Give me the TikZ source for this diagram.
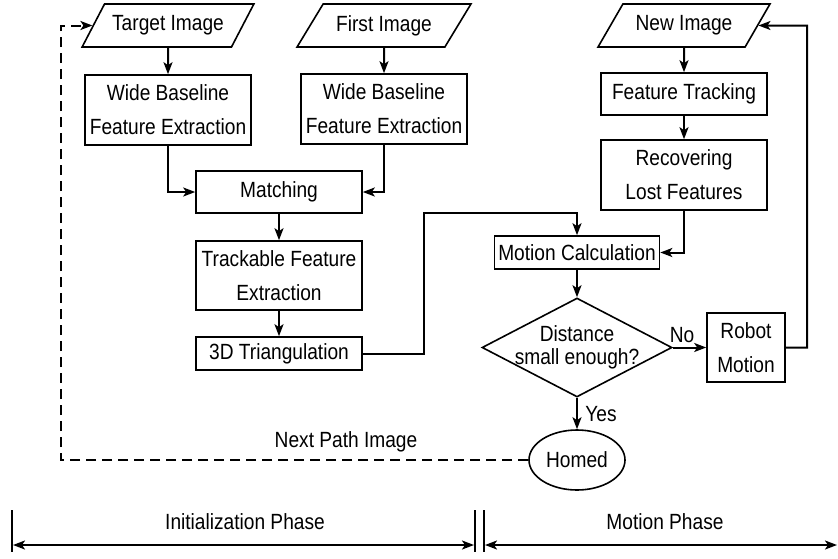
\documentclass[tikz,border=0pt]{standalone}
\usepackage{fontspec}
\setmainfont{Liberation Sans}[FakeStretch=0.87]
\usetikzlibrary{shapes.geometric,arrows.meta}

\tikzset{every picture/.style={line width=1.6pt}}
\tikzset{
  every node/.style={inner sep=0pt},
  box/.style={draw, rectangle, align=center, minimum width=166pt},
  io/.style={draw, trapezium, trapezium left angle=45, trapezium right angle=135,
    trapezium stretches=true, minimum height=43pt},
  flow/.style={line width=2pt, -{Stealth[length=12pt,width=9pt,inset=3pt]}},
  back/.style={flow, dash pattern=on 10pt off 6pt},
  span/.style={line width=2pt, {Stealth[length=12pt,width=9pt,inset=3pt]}-{Stealth[length=12pt,width=9pt,inset=3pt]}},
}

\begin{document}
\begin{tikzpicture}[x=1pt,y=1pt,yscale=-1,xscale=1,font=\fontsize{22}{34}\selectfont]
\useasboundingbox (0,0) rectangle (838,558);

%Shape: Parallelogram
\node [io, minimum width=172pt] (target) at (168,25.5) {Target Image};
\node [io, minimum width=174pt] (first) at (384,25.5) {First Image};
\node [io, minimum width=172pt] (newimg) at (684,25.5) {New Image};

%Shape: Rectangle
\node [box, minimum height=70pt] (wide1) at (168,110) {Wide Baseline\\Feature Extraction};
\node [box, minimum height=70pt] (wide2) at (384,109) {Wide Baseline\\Feature Extraction};
\node [box, minimum height=42pt] (match) at (279,192) {Matching};
\node [box, minimum height=69pt] (track) at (279,275.5) {Trackable Feature\\Extraction};
\node [box, minimum height=33pt] (tri) at (279,353.5) {3D Triangulation};
\node [box, minimum height=42pt] (ftrack) at (684,94) {Feature Tracking};
\node [box, minimum height=70pt] (recover) at (684,175) {Recovering\\Lost Features};
\node [box, minimum width=165pt, minimum height=33pt] (motion) at (577,252.5) {Motion Calculation};
\node [box, minimum width=78pt, minimum height=69pt] (robot) at (746,347.5) {Robot\\Motion};

%Shape: Diamond
\node [draw, diamond, minimum width=190pt, minimum height=99pt,
  label={[align=center,font=\fontsize{22}{23}\selectfont]center:Distance\\small enough?}] (dist) at (577,347.5) {};
%Shape: Ellipse
\node [draw, ellipse, minimum width=96pt, minimum height=60pt] (homed) at (577,460) {Homed};

%Straight Lines
\coordinate (rise) at (424,213);
\coordinate (loop) at (807,25.5);
\coordinate (ret) at (61,460);
\draw [flow] (target.south) -- (wide1.north);
\draw [flow] (first.south) -- (wide2.north);
\draw [flow] (wide1.south) |- (match.west);
\draw [flow] (wide2.south) |- (match.east);
\draw [flow] (match) -- (track);
\draw [flow] (track) -- (tri);
\draw [flow] (tri.east) -| (rise) -| (motion.north);
\draw [flow] (newimg.south) -- (ftrack.north);
\draw [flow] (ftrack) -- (recover);
\draw [flow] (recover.south) |- (motion.east);
\draw [flow] (motion) -- (dist);
\draw [flow] (dist) -- (robot);
\draw [flow] (dist) -- (homed);
\draw [flow] (robot.east) -| (loop) -- (newimg.east);
\draw [back] (homed.west) -- (ret) |- (target.west);

% Text Node
\node (nolbl) at (682,335) {No};
\node (yeslbl) at (601,414) {Yes};
\node (nextlbl) at (346,442) {Next Path Image};

%Phase markers
\draw [line width=2.5pt] (12,510) -- (12,552);
\draw [line width=2.5pt] (475,510) -- (475,552);
\draw [line width=2.5pt] (484,510) -- (484,552);
\draw [span] (13,545) -- (474,545);
\draw [span] (485,545) -- (837,545);
% Text Node
\node (initlbl) at (245,522) {Initialization Phase};
\node (motionlbl) at (665,522) {Motion Phase};

\end{tikzpicture}
\end{document}
